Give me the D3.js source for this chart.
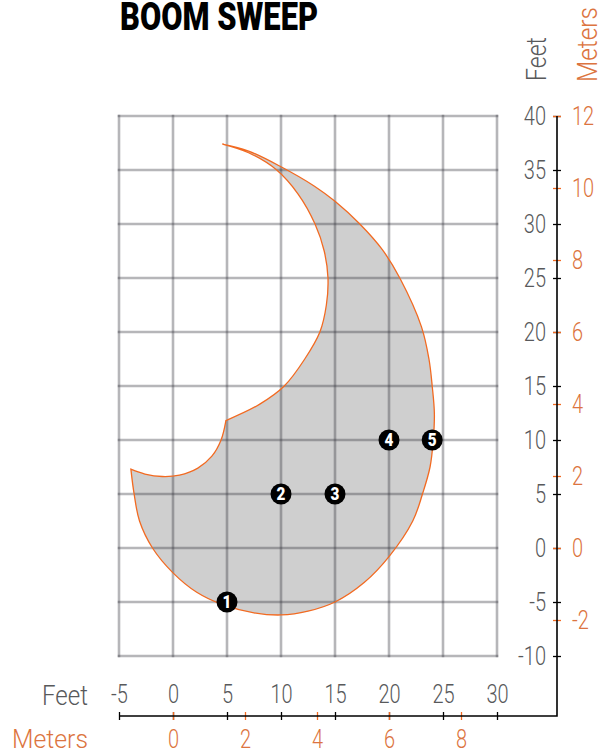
<!DOCTYPE html>
<html>
<head>
<meta charset="utf-8">
<script src="https://cdn.jsdelivr.net/npm/d3@7"></script>
<style>
  html, body { margin: 0; padding: 0; background: #fff; }
  svg { display: block; }
  text { font-family: Roboto, "Noto Sans", sans-serif; }
</style>
</head>
<body>
<svg id="chart" width="605" height="755"></svg>
<script>
// DATA (feet)
const FT_PER_M = 10 / 3;
const xFeetTicks = [-5, 0, 5, 10, 15, 20, 25, 30];
const yFeetTicks = [-10, -5, 0, 5, 10, 15, 20, 25, 30, 35, 40];
const xMeterTicks = [0, 2, 4, 6, 8];
const yMeterTicks = [-2, 0, 2, 4, 6, 8, 10, 12];

// outline of the sweep
const outerEdge = [
  [-3.9, 7.3], [-3.6, 5], [-3.1, 2.5], [-1.9, 0], [0, -2.3], [2.2, -4.1],
  [4.6, -5.25], [7.5, -6.0], [10, -6.2], [12.5, -5.85], [15, -5], [17.7, -3.2],
  [20, -0.8], [22.2, 2.5], [23.1, 5], [23.8, 7.5], [24.1, 10], [24.2, 12.5],
  [24.0, 15], [23.7, 17.5], [23.0, 20.5], [21.0, 25], [19.4, 27.6], [17.3, 30],
  [15, 32.1], [13.1, 33.5], [10, 35.3], [7, 36.75], [4.57, 37.4]
];
const innerEdge = [
  [4.57, 37.4], [7, 36.6], [9.6, 35.0], [11.6, 32.75], [13.15, 30], [14.0, 27.5],
  [14.35, 25], [14.2, 22.5], [13.6, 20], [12.2, 17.5], [10.3, 15.0],
  [8.0, 13.3], [4.9, 11.8]
];
const notchEdge = [
  [4.9, 11.8], [4.45, 10], [3.6, 8.5], [2.3, 7.4], [0.6, 6.75], [-1.0, 6.62],
  [-2.6, 6.85], [-3.9, 7.3]
];

const markerX = [5, 10, 15, 20, 24];
const markerY = [-5, 5, 5, 10, 10];
const markerLabels = ['1', '2', '3', '4', '5'];

// COLORS
const orange = '#f26a21';
const orangeText = '#dc7440';
const grayText = '#58595b';

const svg = d3.select('#chart');

const x = d3.scaleLinear().domain([-5, 30]).range([119, 497]);
const y = d3.scaleLinear().domain([-10, 40]).range([656, 116]);
const xm = d3.scaleLinear().domain(x.domain().map(d => d / FT_PER_M)).range(x.range());
const ym = d3.scaleLinear().domain(y.domain().map(d => d / FT_PER_M)).range(y.range());

const axisX = 557;
const axisY = 716;

// TITLE
svg.append('text')
  .attr('x', 120)
  .attr('y', 30)
  .attr('font-size', 38)
  .attr('font-weight', 900)
  .attr('textLength', 198)
  .attr('lengthAdjust', 'spacingAndGlyphs')
  .attr('fill', '#000')
  .text('BOOM SWEEP');

// SWEEP SHAPE
const line = d3.line().x(d => x(d[0])).y(d => y(d[1])).curve(d3.curveCatmullRom.alpha(0.5));
const shapePath = line(outerEdge) +
  line(innerEdge).replace(/^M/, 'L') +
  line(notchEdge).replace(/^M/, 'L') + 'Z';

svg.append('path')
  .attr('d', shapePath)
  .attr('fill', '#cfcfcf');

// GRID (drawn over the fill so it darkens inside)
const grid = svg.append('g')
  .attr('stroke', 'rgba(40,40,50,0.34)')
  .attr('stroke-width', 2.6);

grid.selectAll('.v')
  .data(xFeetTicks)
  .enter().append('line')
  .attr('x1', d => x(d)).attr('x2', d => x(d))
  .attr('y1', y(-10) + 1.3).attr('y2', y(40) - 1.3);

grid.selectAll('.h')
  .data(yFeetTicks)
  .enter().append('line')
  .attr('y1', d => y(d)).attr('y2', d => y(d))
  .attr('x1', x(-5) - 1.3).attr('x2', x(30) + 1.3);

svg.append('path')
  .attr('d', shapePath)
  .attr('fill', 'none')
  .attr('stroke', orange)
  .attr('stroke-width', 1.3);

// MARKERS
const marker = svg.selectAll('.marker')
  .data(markerX.map((d, i) => ({ x: d, y: markerY[i], label: markerLabels[i] })))
  .enter().append('g')
  .attr('transform', d => `translate(${x(d.x)}, ${y(d.y)})`);

marker.append('circle')
  .attr('r', 10.5)
  .attr('fill', '#000');

marker.append('text')
  .attr('text-anchor', 'middle')
  .attr('dy', '0.36em')
  .attr('fill', '#fff')
  .attr('font-size', 18)
  .attr('font-weight', 900)
  .attr('transform', 'scale(0.85,1)')
  .text(d => d.label);

// AXES
const sx = 0.8;
function styleAxis(g, color, fill) {
  g.select('.domain').remove();
  g.selectAll('.tick line').attr('stroke', color).attr('stroke-width', 1.3);
  g.selectAll('.tick text')
    .attr('fill', fill)
    .attr('font-size', 25)
    .attr('font-weight', 300)
    .attr('font-family', 'Roboto, sans-serif');
}
const fmt = d => d < 0 ? '-' + Math.abs(d) : d;

// right: feet labels on the left of the line, meters on the right
const yFeetAxis = svg.append('g')
  .attr('transform', `translate(${axisX},0)`)
  .call(d3.axisLeft(y).tickValues(yFeetTicks).tickSize(4));
styleAxis(yFeetAxis, '#000', grayText);
yFeetAxis.selectAll('.tick line').attr('x1', 4);
yFeetAxis.selectAll('.tick text')
  .attr('transform', `scale(${sx},1)`)
  .attr('x', -11 / sx)
  .attr('dy', '0.35em')
  .text(fmt);

const yMeterAxis = svg.append('g')
  .attr('transform', `translate(${axisX},0)`)
  .call(d3.axisRight(ym).tickValues(yMeterTicks).tickSize(4));
styleAxis(yMeterAxis, orange, orangeText);
yMeterAxis.selectAll('.tick line').attr('x1', -4);
yMeterAxis.selectAll('.tick text')
  .attr('transform', `scale(${sx},1)`)
  .attr('x', 15 / sx)
  .attr('dy', '0.35em')
  .text(fmt);

// bottom: feet labels above the line, meters below
const xFeetAxis = svg.append('g')
  .attr('transform', `translate(0,${axisY})`)
  .call(d3.axisTop(x).tickValues(xFeetTicks).tickSize(4));
styleAxis(xFeetAxis, '#000', grayText);
xFeetAxis.selectAll('.tick line').attr('y1', 4);
xFeetAxis.selectAll('.tick text')
  .attr('transform', `scale(${sx},1)`)
  .attr('x', 0)
  .attr('y', -13)
  .attr('dy', 0)
  .text(fmt);

const xMeterAxis = svg.append('g')
  .attr('transform', `translate(0,${axisY})`)
  .call(d3.axisBottom(xm).tickValues(xMeterTicks).tickSize(4));
styleAxis(xMeterAxis, orange, orangeText);
xMeterAxis.selectAll('.tick line').attr('y1', -4);
xMeterAxis.selectAll('.tick text')
  .attr('transform', `scale(${sx},1)`)
  .attr('x', 0)
  .attr('y', 32)
  .attr('dy', 0);

// axis frame lines
svg.append('path')
  .attr('d', `M${x(-5) + 1},${axisY}H${axisX}V${y(40)}`)
  .attr('fill', 'none')
  .attr('stroke', '#000')
  .attr('stroke-width', 1.6);

// UNIT LABELS
svg.append('text')
  .attr('x', 88).attr('y', 705)
  .attr('text-anchor', 'end')
  .attr('font-size', 27).attr('font-weight', 300)
  .attr('textLength', 46).attr('lengthAdjust', 'spacingAndGlyphs')
  .attr('fill', grayText)
  .text('Feet');

svg.append('text')
  .attr('x', 88).attr('y', 748)
  .attr('text-anchor', 'end')
  .attr('font-size', 25).attr('font-weight', 300)
  .attr('textLength', 76).attr('lengthAdjust', 'spacingAndGlyphs')
  .attr('fill', orangeText)
  .text('Meters');

svg.append('text')
  .attr('transform', 'translate(546,81) rotate(-90)')
  .attr('font-size', 27).attr('font-weight', 300)
  .attr('textLength', 44).attr('lengthAdjust', 'spacingAndGlyphs')
  .attr('fill', grayText)
  .text('Feet');

svg.append('text')
  .attr('transform', 'translate(597,82) rotate(-90)')
  .attr('font-size', 27).attr('font-weight', 300)
  .attr('textLength', 75).attr('lengthAdjust', 'spacingAndGlyphs')
  .attr('fill', orangeText)
  .text('Meters');
</script>
</body>
</html>
